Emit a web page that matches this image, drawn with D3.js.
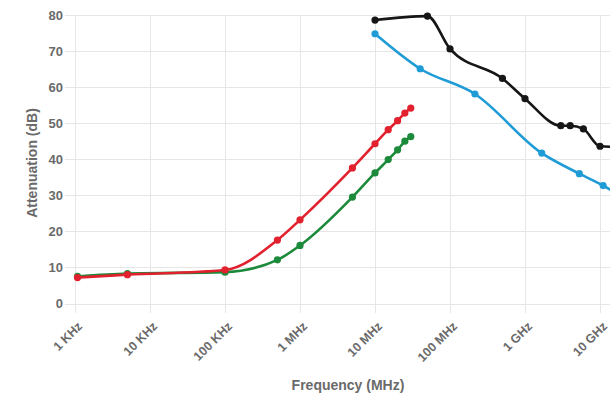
<!DOCTYPE html>
<html>
<head>
<meta charset="utf-8">
<script src="https://cdn.jsdelivr.net/npm/d3@7"></script>
<style>
  html, body { margin: 0; padding: 0; background: #fff; }
  svg { display: block; }
  text { font-family: "Liberation Sans", Arial, Helvetica, sans-serif; font-weight: bold; fill: #6a6a6a; }
</style>
</head>
<body>
<script>
// Frequencies (Hz) and attenuation (dB) for each filter curve
const lowFreq = [1.08e3, 5e3, 1e5, 5e5, 1e6, 5e6, 1e7, 1.5e7, 2e7, 2.5e7, 3e7];
const redValues = [7.2, 8.0, 9.3, 17.6, 23.2, 37.6, 44.3, 48.2, 50.7, 52.8, 54.2];
const greenValues = [7.5, 8.3, 8.7, 12.1, 16.1, 29.5, 36.2, 39.9, 42.6, 45.0, 46.3];

const blackFreq = [1e7, 5e7, 1e8, 5e8, 1e9, 3e9, 4e9, 6e9, 1e10, 2e10];
const blackValues = [78.6, 79.7, 70.6, 62.4, 56.8, 49.3, 49.3, 48.4, 43.6, 43.4];

const blueFreq = [1e7, 4e7, 2.15e8, 1.67e9, 5.3e9, 1.1e10, 2e10];
const blueValues = [74.8, 65.1, 58.1, 41.7, 36.0, 32.7, 29.5];

const xTickValues = [1e3, 1e4, 1e5, 1e6, 1e7, 1e8, 1e9, 1e10];
const xTickLabels = ["1 KHz", "10 KHz", "100 KHz", "1 MHz", "10 MHz", "100 MHz", "1 GHz", "10 GHz"];
const yTickValues = [0, 10, 20, 30, 40, 50, 60, 70, 80];

const width = 610, height = 397;
const svg = d3.select("body").append("svg")
  .attr("width", width).attr("height", height);

const x = d3.scaleLog().domain([1e3, 2e10]).range([75, 622.6]);
const y = d3.scaleLinear().domain([0, 80]).range([303.5, 15]);

const grid = svg.append("g").attr("stroke", "#e6e6e6").attr("stroke-width", 1);

// horizontal grid lines with short tick extension on the left
grid.selectAll("line.h").data(yTickValues).join("line")
  .attr("x1", 65).attr("x2", 640)
  .attr("y1", d => Math.round(y(d)) + 0.5).attr("y2", d => Math.round(y(d)) + 0.5);

// vertical grid lines extending a little below the baseline
grid.selectAll("line.v").data(xTickValues).join("line")
  .attr("x1", d => Math.round(x(d)) + 0.5).attr("x2", d => Math.round(x(d)) + 0.5)
  .attr("y1", 15).attr("y2", 313);

// y tick labels
svg.append("g").selectAll("text").data(yTickValues).join("text")
  .attr("x", 63).attr("y", d => y(d))
  .attr("dy", "0.35em")
  .attr("text-anchor", "end")
  .style("font-size", "13px")
  .text(d => d);

// x tick labels rotated 45 degrees
svg.append("g").selectAll("text").data(xTickValues).join("text")
  .attr("text-anchor", "end")
  .attr("transform", d => `translate(${x(d) + 8},${327}) rotate(-45)`)
  .style("font-size", "12.5px")
  .text((d, i) => xTickLabels[i]);

// axis titles
svg.append("text")
  .attr("x", 348).attr("y", 390)
  .attr("text-anchor", "middle")
  .style("font-size", "14px")
  .text("Frequency (MHz)");

svg.append("text")
  .attr("transform", "translate(37,163) rotate(-90)")
  .attr("text-anchor", "middle")
  .style("font-size", "14px")
  .text("Attenuation (dB)");

const series = [
  { freq: lowFreq, values: greenValues, color: "#1b8a3a" },
  { freq: lowFreq, values: redValues, color: "#e2212f" },
  { freq: blueFreq, values: blueValues, color: "#1f9bd6" },
  { freq: blackFreq, values: blackValues, color: "#161616" }
];

const line = d3.line()
  .x(d => x(d[0]))
  .y(d => y(d[1]))
  .curve(d3.curveMonotoneX);

series.forEach(s => {
  const pts = s.freq.map((f, i) => [f, s.values[i]]);
  const g = svg.append("g");
  g.append("path")
    .attr("d", line(pts))
    .attr("fill", "none")
    .attr("stroke", s.color)
    .attr("stroke-width", 2.6)
    .attr("stroke-linejoin", "round");
  g.selectAll("circle").data(pts).join("circle")
    .attr("cx", d => x(d[0]))
    .attr("cy", d => y(d[1]))
    .attr("r", 3.6)
    .attr("fill", s.color);
});
</script>
</body>
</html>
